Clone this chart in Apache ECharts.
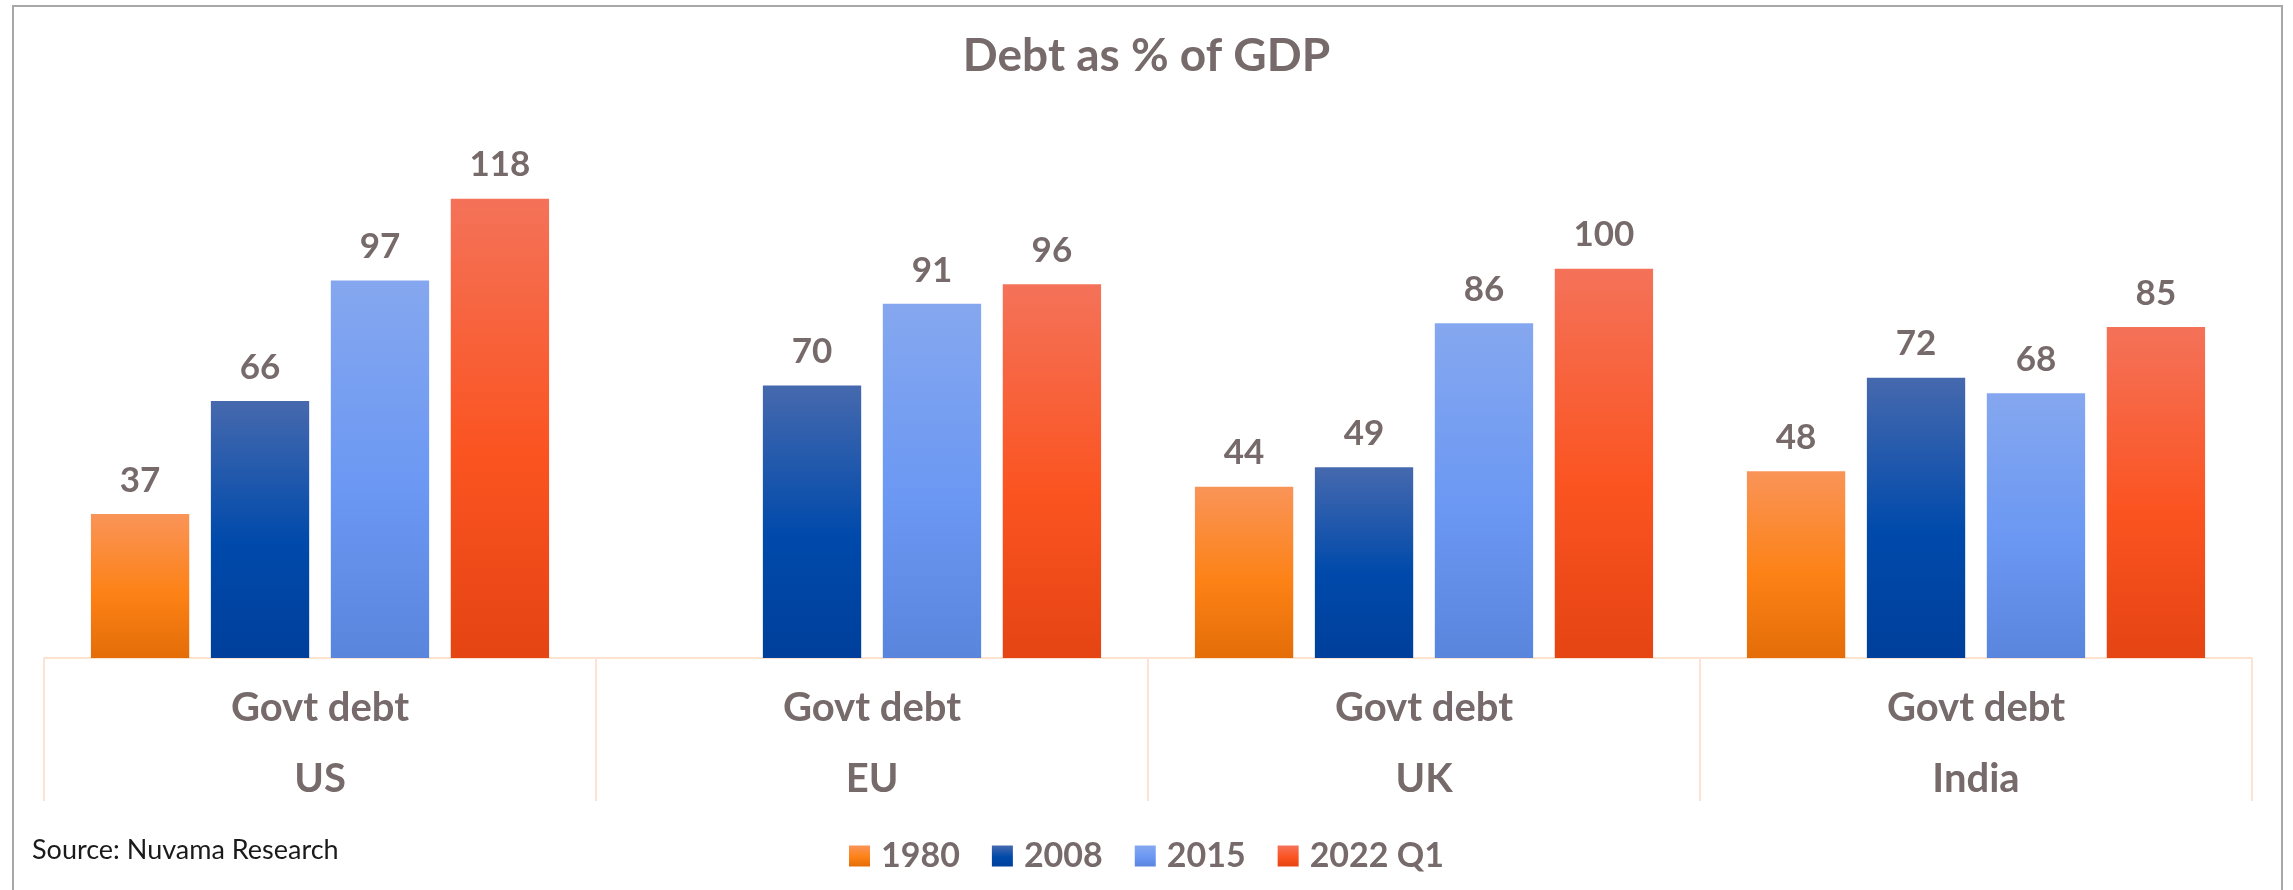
<!DOCTYPE html>
<html>
<head>
<meta charset="utf-8">
<script src="https://cdn.jsdelivr.net/npm/echarts@6/dist/echarts.min.js"></script>
<style>
html,body{margin:0;padding:0;background:#fff;}
#chart{width:2293px;height:890px;}
</style>
</head>
<body>
<div id="chart"></div>
<script>
const regions = ['US', 'EU', 'UK', 'India'];
const subLabel = 'Govt debt';
const seriesNames = ['1980', '2008', '2015', '2022 Q1'];
const v1980 = [37, null, 44, 48];
const v2008 = [66, 70, 49, 72];
const v2015 = [97, 91, 86, 68];
const v2022 = [118, 96, 100, 85];

const TXT = '#766a6b';
const FONT = 'Lato';

function grad(c0, c1, c2) {
  return new echarts.graphic.LinearGradient(0, 0, 0, 1, [
    {offset: 0, color: c0}, {offset: 0.55, color: c1}, {offset: 1, color: c2}
  ]);
}
const colors = [
  grad('#f99458', '#fd8216', '#e46d08'),
  grad('#4669ae', '#004aab', '#003f9b'),
  grad('#85a7ef', '#6b98f3', '#5a85dd'),
  grad('#f47259', '#fb5421', '#e54413')
];
const values = [v1980, v2008, v2015, v2022];

const chart = echarts.init(document.getElementById('chart'));
chart.setOption({
  backgroundColor: '#ffffff',
  animation: false,
  title: {
    text: 'Debt as % of GDP',
    left: 'center',
    top: 28,
    textStyle: {fontFamily: FONT, fontWeight: 'bold', fontSize: 46, color: TXT}
  },
  legend: {
    data: seriesNames,
    left: 844,
    top: 834,
    itemWidth: 21,
    itemHeight: 21,
    itemGap: 32,
    icon: 'rect',
    textStyle: {fontFamily: FONT, fontWeight: 'bold', fontSize: 34, color: TXT, padding: [0, 0, 0, 6]}
  },
  graphic: [
    {type: 'rect', shape: {x: 13, y: 6, width: 2269, height: 1000}, style: {fill: 'none', stroke: '#a8a8a8', lineWidth: 2}, z: 100},
    {type: 'text', left: 32, top: 837, style: {text: 'Source: Nuvama Research', fontFamily: FONT, fontSize: 27, fill: '#1a1a1a'}}
  ],
  grid: {left: 44, right: 41, top: 113, bottom: 232},
  xAxis: {
    type: 'category',
    data: regions,
    axisLine: {show: true, lineStyle: {color: '#fde3d0', width: 2}},
    axisTick: {show: true, length: 143, interval: 0, lineStyle: {color: '#fde3d0', width: 2}},
    axisLabel: {
      margin: 0,
      formatter: function (v) { return '{a|' + subLabel + '}\n{b|' + v + '}'; },
      rich: {
        a: {fontFamily: FONT, fontWeight: 'bold', fontSize: 40, color: TXT, lineHeight: 100},
        b: {fontFamily: FONT, fontWeight: 'bold', fontSize: 40, color: TXT, lineHeight: 42}
      }
    }
  },
  yAxis: {type: 'value', min: 0, max: 140, show: false, splitLine: {show: false}},
  series: seriesNames.map(function (name, i) {
    return {
      name: name,
      type: 'bar',
      data: values[i],
      barGap: '22%',
      barCategoryGap: '17%',
      itemStyle: {color: colors[i]},
      label: {
        show: true,
        position: 'top',
        distance: 16,
        fontFamily: FONT,
        fontWeight: 'bold',
        fontSize: 35,
        color: TXT
      }
    };
  })
});
</script>
</body>
</html>
